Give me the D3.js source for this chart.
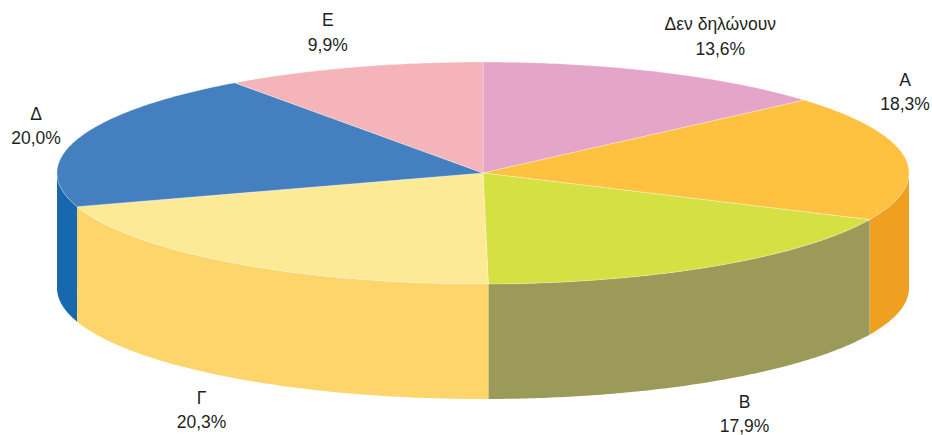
<!DOCTYPE html>
<html>
<head>
<meta charset="utf-8">
<script src="https://cdn.jsdelivr.net/npm/d3@7"></script>
<style>
  body { margin: 0; background: #fff; }
  text { font-family: "Liberation Sans", Arial, sans-serif; font-size: 17.5px; fill: #231f20; }
</style>
</head>
<body>
<div id="chart"></div>
<script>
// data
let labels = ["Δεν δηλώνουν", "Α", "Β", "Γ", "Δ", "Ε"];
let values = [13.6, 18.3, 17.9, 20.3, 20.0, 9.9];
let pctLabels = ["13,6%", "18,3%", "17,9%", "20,3%", "20,0%", "9,9%"];
let topColors = ["#e5a5c9", "#fec140", "#d5e042", "#fdea96", "#447fc0", "#f5b4b9"];
let sideColors = ["#c884ab", "#f0a020", "#9c9a58", "#fdd56a", "#1868b0", "#e08f95"];

let svgWidth = 932;
let svgHeight = 435;

let cx = 483, cy = 173;
let rx = 426, ry = 111;
let depth = 115;

let svg = d3.select("#chart")
    .append("svg")
    .attr("width", svgWidth)
    .attr("height", svgHeight);

let data = labels.map((d, i) => ({ label: d, value: values[i], pct: pctLabels[i], i: i }));

let pie = d3.pie()
    .sort(null)
    .value(d => d.value);

let arcs = pie(data);

// point on the top ellipse, angle clockwise from 12 o'clock
let px = a => cx + rx * Math.sin(a);
let py = a => cy - ry * Math.cos(a);

let line = d3.line();

function arcPoints(a0, a1, dy) {
    let n = Math.max(2, Math.ceil((a1 - a0) / 0.01));
    return d3.range(n + 1).map(k => {
        let a = a0 + (a1 - a0) * k / n;
        return [px(a), py(a) + dy];
    });
}

// side walls (only the front half is visible)
let walls = svg.append("g");
arcs.forEach(d => {
    let a0 = Math.max(d.startAngle, Math.PI / 2);
    let a1 = Math.min(d.endAngle, 3 * Math.PI / 2);
    if (a1 <= a0) return;
    let pts = arcPoints(a0, a1, 0).concat(arcPoints(a0, a1, depth).reverse());
    walls.append("path")
        .attr("d", line(pts) + "Z")
        .attr("fill", sideColors[d.data.i]);
});

// top faces
let tops = svg.append("g");
tops.selectAll("path")
    .data(arcs)
    .enter()
    .append("path")
    .attr("d", d => line([[cx, cy]].concat(arcPoints(d.startAngle, d.endAngle, 0))) + "Z")
    .attr("fill", d => topColors[d.data.i])
    .attr("stroke", "#fff")
    .attr("stroke-opacity", 0.5)
    .attr("stroke-width", 0.6)
    .attr("stroke-linejoin", "round");

// labels
let nudge = { 0: [38, 0], 1: [0, -60], 5: [-8, 2] };

let labelGroup = svg.append("g");
arcs.forEach(d => {
    let mid = (d.startAngle + d.endAngle) / 2;
    let x = cx + (rx + 55) * Math.sin(mid);
    let y = cy - (ry + 39) * Math.cos(mid);
    if (Math.cos(mid) < 0) y += depth;
    x = Math.max(36, Math.min(905, x));
    let n = nudge[d.data.i] || [0, 0];
    x += n[0];
    y += n[1];
    let t = labelGroup.append("text")
        .attr("text-anchor", "middle")
        .attr("x", x)
        .attr("y", y - 6);
    t.append("tspan").attr("x", x).text(d.data.label);
    t.append("tspan").attr("x", x).attr("dy", 24.5).text(d.data.pct);
});
</script>
</body>
</html>
